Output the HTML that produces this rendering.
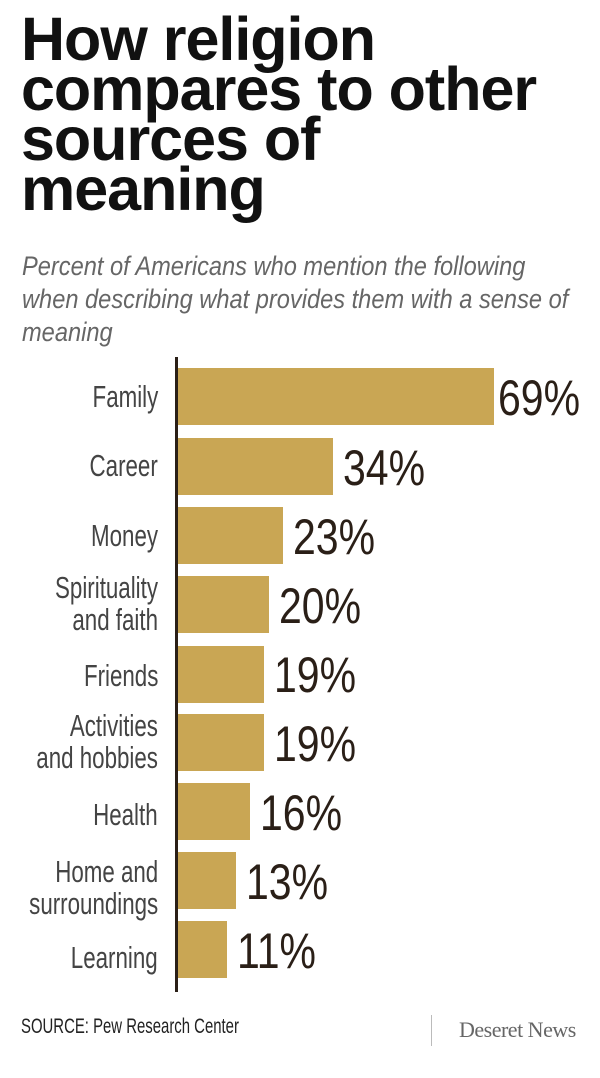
<!DOCTYPE html>
<html><head><meta charset="utf-8"><style>
body{margin:0;width:600px;height:1078px;background:#fff;position:relative;overflow:hidden;font-family:"Liberation Sans",sans-serif}
.t{position:absolute;left:21px;top:14px;font-weight:bold;font-size:61px;line-height:50px;color:#111;letter-spacing:-1px;white-space:nowrap}
.s{position:absolute;left:22px;top:250px;font-style:italic;font-size:27px;line-height:33px;color:#666;width:660px;white-space:nowrap;transform:scaleX(0.875);transform-origin:left top}
.ax{position:absolute;left:175px;top:357px;width:3px;height:635px;background:#2a1f17}
.b{position:absolute;left:178px;height:57px;background:#c9a654}
.l{position:absolute;right:442px;text-align:right;font-size:31px;line-height:32px;color:#444;white-space:nowrap;transform:scaleX(0.72);transform-origin:right top}
.v{position:absolute;font-size:50px;line-height:46px;color:#2a1f17;transform:scaleX(0.82);transform-origin:left top}
.f{position:absolute;top:1015px;font-size:21px;color:#222;transform:scaleX(0.71);transform-origin:left top;white-space:nowrap}
</style></head><body>
<div class="t">How religion<br>compares to other<br>sources of<br>meaning</div>
<div class="s">Percent of Americans who mention the following<br>when describing what provides them with a sense of<br>meaning</div>
<div class="ax"></div>

<div class="b" style="top:368px;width:316px"></div><div class="l" style="top:381px">Family</div><div class="v" style="left:498px;top:375px">69%</div>
<div class="b" style="top:438px;width:155px"></div><div class="l" style="top:450px">Career</div><div class="v" style="left:343px;top:445px">34%</div>
<div class="b" style="top:507px;width:105px"></div><div class="l" style="top:520px">Money</div><div class="v" style="left:293px;top:514px">23%</div>
<div class="b" style="top:576px;width:91px"></div><div class="l" style="top:572px">Spirituality<br>and faith</div><div class="v" style="left:279px;top:583px">20%</div>
<div class="b" style="top:646px;width:86px"></div><div class="l" style="top:660px">Friends</div><div class="v" style="left:274px;top:652px">19%</div>
<div class="b" style="top:714px;width:86px"></div><div class="l" style="top:710px">Activities<br>and hobbies</div><div class="v" style="left:274px;top:721px">19%</div>
<div class="b" style="top:783px;width:72px"></div><div class="l" style="top:799px">Health</div><div class="v" style="left:260px;top:790px">16%</div>
<div class="b" style="top:852px;width:58px"></div><div class="l" style="top:856px">Home and<br>surroundings</div><div class="v" style="left:246px;top:859px">13%</div>
<div class="b" style="top:921px;width:49px"></div><div class="l" style="top:942px">Learning</div><div class="v" style="left:237px;top:928px">11%</div>

<div class="f" style="left:21px">SOURCE: Pew Research Center</div>
<div style="position:absolute;left:431px;top:1015px;width:1px;height:31px;background:#bbb"></div>
<div style="position:absolute;left:459px;top:1017px;font-family:'Liberation Serif',serif;font-size:22px;color:#666;letter-spacing:-0.5px">Deseret News</div>
</body></html>
